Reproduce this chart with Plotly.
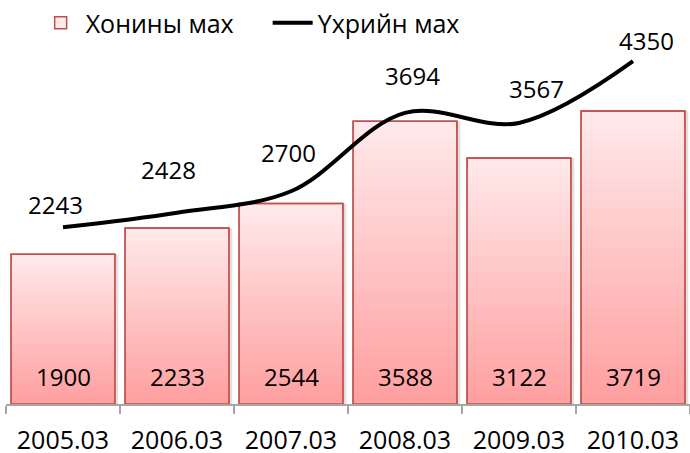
import plotly.graph_objects as go

categories = ["2005.03", "2006.03", "2007.03", "2008.03", "2009.03", "2010.03"]
sheep = [1900, 2233, 2544, 3588, 3122, 3719]
beef = [2243, 2428, 2700, 3694, 3567, 4350]
sheep_name = "Хонины мах"
beef_name = "Үхрийн мах"

# style
FONT = "Open Sans"
FS = 24
FS2 = 25
light = (255, 232, 234)
dark = (255, 160, 160)
border = "#C0504D"
N = 30
beef_label_dx = [-8, -9, -3, 7, 17, 13]
beef_label_dy = [23, 43, 39, 37, 34, 21]

fig = go.Figure()

# soft shadow
fig.add_trace(go.Bar(x=categories, y=sheep, width=0.91, offset=-0.455 + 0.03,
                     marker=dict(color="rgba(0,0,0,0.12)", line=dict(width=0)),
                     showlegend=False, hoverinfo="skip"))

for k in range(N):
    t = k / (N - 1)
    c = tuple(round(light[i] + (dark[i] - light[i]) * t) for i in range(3))
    frac = 1 - k / N
    fig.add_trace(go.Bar(
        x=categories, y=[v * frac for v in sheep], width=0.91,
        marker=dict(color=f"rgb{c}", line=dict(width=1.5 if k == 0 else 0, color=border)),
        name=sheep_name, showlegend=(k == 0), hoverinfo="skip"))

# outline
fig.add_trace(go.Bar(x=categories, y=sheep, width=0.91,
                     marker=dict(color="rgba(0,0,0,0)", line=dict(width=1.5, color=border)),
                     showlegend=False, hoverinfo="skip"))

fig.add_trace(go.Scatter(x=categories, y=beef, mode="lines", name=beef_name,
                         line=dict(color="black", width=4, shape="spline", smoothing=1)))

for i, v in enumerate(sheep):
    fig.add_annotation(x=i, y=0, text=str(v), showarrow=False, yanchor="bottom",
                       yshift=9, font=dict(family=FONT, size=FS, color="black"))

for i, (v, dx, dy) in enumerate(zip(beef, beef_label_dx, beef_label_dy)):
    fig.add_annotation(x=i, y=v, text=str(v), showarrow=False, yanchor="middle",
                       xshift=dx, yshift=dy, font=dict(family=FONT, size=FS, color="black"))

fig.update_layout(
    width=690, height=453,
    margin=dict(l=6, r=0, t=10, b=49, autoexpand=False),
    barmode="overlay", bargap=0.09,
    plot_bgcolor="white", paper_bgcolor="white",
    font=dict(family=FONT, size=FS, color="black"),
    legend=dict(orientation="h", x=0.0517, xref="container", y=1.0, yref="container",
                yanchor="top", xanchor="left", font=dict(size=FS2), bgcolor="rgba(0,0,0,0)",
                entrywidth=177, itemwidth=40),
    xaxis=dict(type="category", range=[-0.5, 5.5], showline=True, linecolor="#A6A6A6",
               linewidth=1.5, ticks="outside", ticklen=8, tickcolor="#A6A6A6", tickwidth=1.5,
               tickson="boundaries", tickfont=dict(family=FONT, size=FS2), tickangle=0,
               ticklabelstandoff=13, automargin=False,
               showgrid=False, zeroline=False),
    yaxis=dict(range=[0, 5000], visible=False, showgrid=False, zeroline=False, automargin=False),
)

fig.write_html("out.html", config={"displayModeBar": False},
               post_script="document.body.style.margin='0';")
